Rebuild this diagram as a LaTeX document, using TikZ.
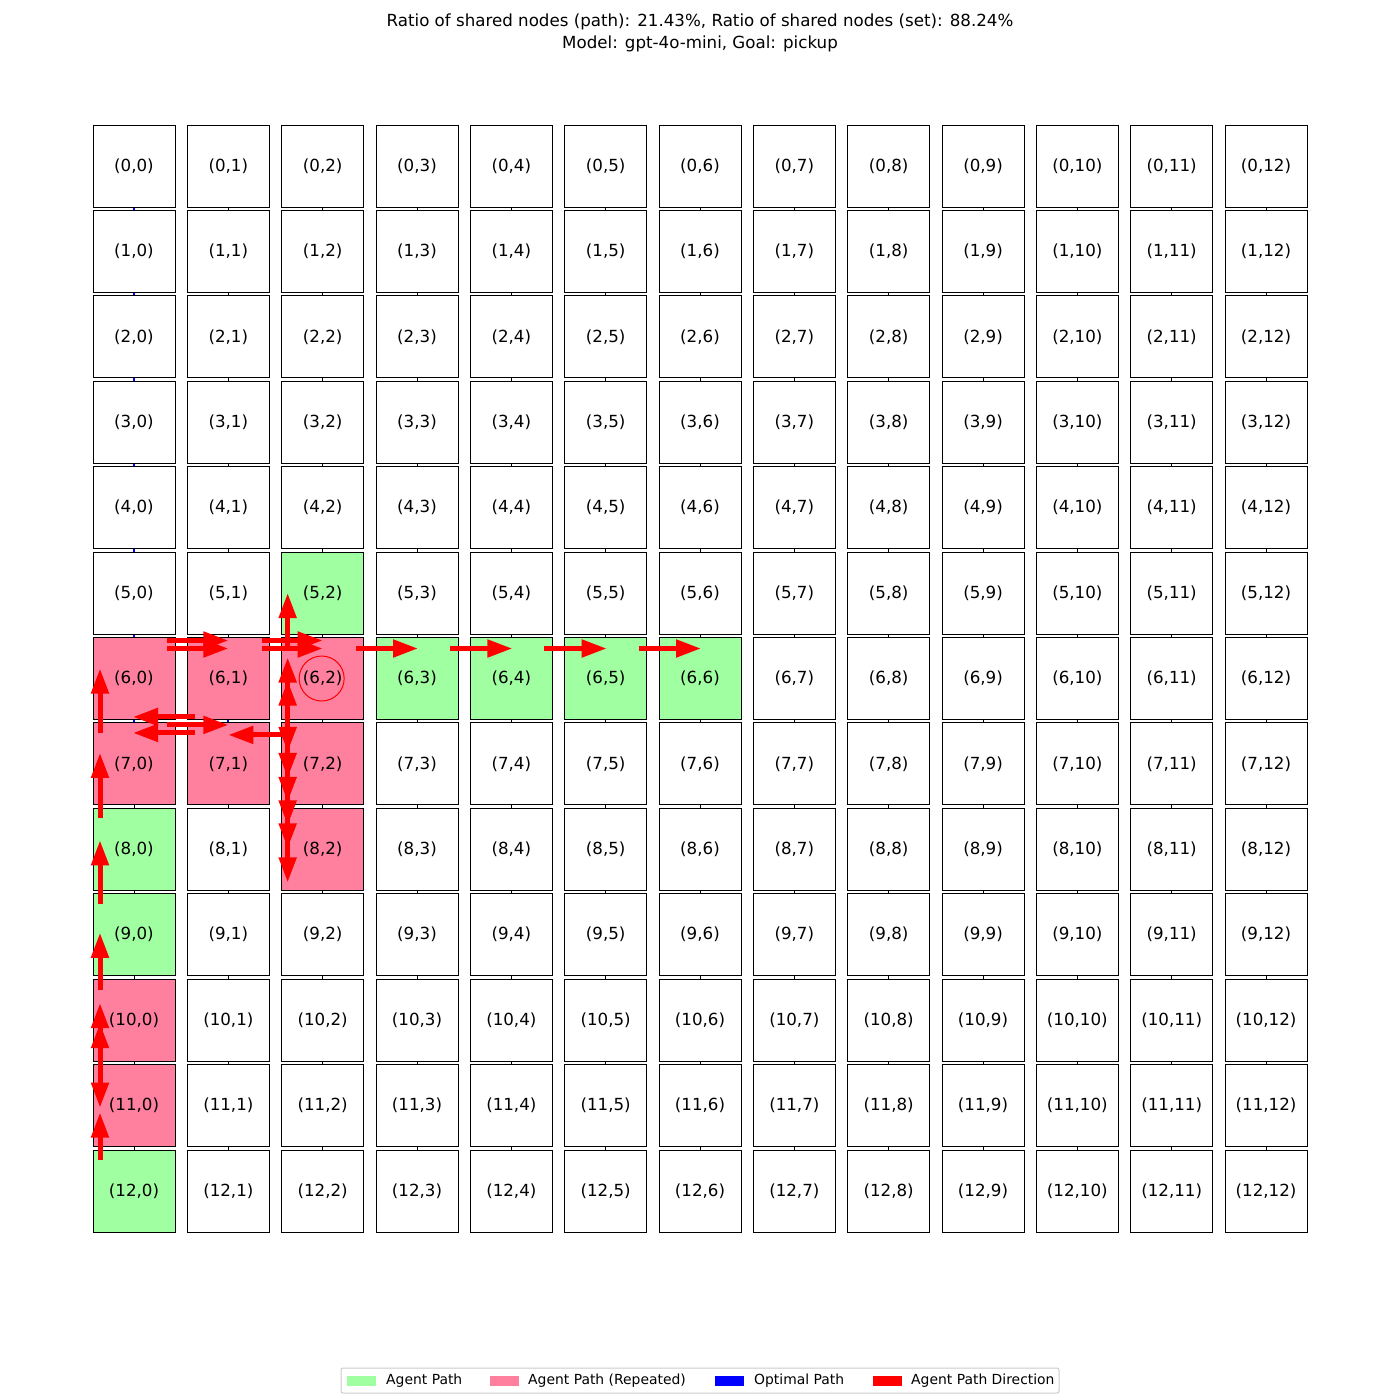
\documentclass[tikz,border=0pt]{standalone}
\usepackage{fontspec}
\setmainfont{DejaVu Sans}
\usetikzlibrary{arrows.meta}
\definecolor{agentgreen}{RGB}{160,255,160}
\definecolor{agentpink}{RGB}{255,127,158}

\begin{document}
\begin{tikzpicture}[x=1pt,y=-1pt,font=\fontsize{16.67}{22}\selectfont]
    \tikzset{
        cell/.style={draw,line width=1pt,fill=white,minimum width=82pt,
            minimum height=82pt,inner sep=0pt},
        visited/.style={fill=agentgreen},
        repeated/.style={fill=agentpink},
        gridedge/.style={line width=1pt},
        optedge/.style={draw=blue,line width=2.2pt},
        dirarrow/.style={draw=red,line width=5pt,
            -{Triangle[length=25pt,width=17pt]}},
        goalring/.style={draw=red,circle,line width=1pt,minimum size=45pt,inner sep=0pt},
        legpatch/.style={minimum width=29pt,minimum height=10pt,inner sep=0pt},
        legtext/.style={anchor=west,inner sep=0pt,font=\fontsize{13.9}{16}\selectfont},
        % agent path cells
        c12-0/.style=visited, c9-0/.style=visited, c8-0/.style=visited,
        c5-2/.style=visited, c6-3/.style=visited, c6-4/.style=visited,
        c6-5/.style=visited, c6-6/.style=visited,
        c11-0/.style=repeated, c10-0/.style=repeated, c7-0/.style=repeated,
        c6-0/.style=repeated, c6-1/.style=repeated, c7-1/.style=repeated,
        c6-2/.style=repeated, c7-2/.style=repeated, c8-2/.style=repeated,
        % optimal path edges
        v0-0/.style=optedge, v1-0/.style=optedge, v2-0/.style=optedge,
        v3-0/.style=optedge, v4-0/.style=optedge, v5-0/.style=optedge,
        v6-0/.style=optedge, v6-1/.style=optedge, h7-0/.style=optedge,
        h6-1/.style=optedge, h6-2/.style=optedge, h6-3/.style=optedge,
        h6-4/.style=optedge, h6-5/.style=optedge
    }

    \fill[white] (0,0) rectangle (1400,1400);
    \useasboundingbox (0,0) rectangle (1400,1400);

    \node[align=center] (title) at (700,33)
        {Ratio of shared nodes (path): 21.43\%, Ratio of shared nodes (set): 88.24\%\\
         Model: gpt-4o-mini, Goal: pickup};

    \foreach \r in {0,...,12}
        \foreach \c in {0,...,12}
            \node[cell,c\r-\c/.try] (n\r-\c) at ({134+94.333*\c},{166+85.417*\r}) {(\r,\c)};

    \foreach \r in {0,...,12}
        \foreach \c [evaluate=\c as \d using int(\c+1)] in {0,...,11}
            \draw[gridedge,h\r-\c/.try] (n\r-\c) -- (n\r-\d);
    \foreach \r [evaluate=\r as \s using int(\r+1)] in {0,...,11}
        \foreach \c in {0,...,12}
            \draw[gridedge,v\r-\c/.try] (n\r-\c) -- (n\s-\c);

    \node[goalring] (goal) at ([xshift=-1pt]n6-2.center) {};

    % column 0, upwards
    \draw[dirarrow] ([xshift=-34pt,yshift=31pt]n12-0.center) -- ([xshift=-34pt,yshift=-7pt]n11-0.center);
    \draw[dirarrow] ([xshift=-34pt,yshift=-30pt]n10-0.center) -- ([xshift=-34pt,yshift=-2pt]n11-0.center);
    \draw[dirarrow] ([xshift=-34pt,yshift=21pt]n11-0.center) -- ([xshift=-34pt,yshift=-3pt]n10-0.center);
    \draw[dirarrow] ([xshift=-34pt,yshift=31pt]n11-0.center) -- ([xshift=-34pt,yshift=17pt]n10-0.center);
    \draw[dirarrow] ([xshift=-34pt,yshift=30pt]n10-0.center) -- ([xshift=-34pt,yshift=2pt]n9-0.center);
    \draw[dirarrow] ([xshift=-34pt,yshift=31pt]n9-0.center) -- ([xshift=-34pt,yshift=9pt]n8-0.center);
    \draw[dirarrow] ([xshift=-34pt,yshift=31pt]n8-0.center) -- ([xshift=-34pt,yshift=11pt]n7-0.center);
    \draw[dirarrow] ([xshift=-34pt,yshift=31pt]n7-0.center) -- ([xshift=-34pt,yshift=10pt]n6-0.center);

    % row 6, to the right
    \draw[dirarrow] ([xshift=33pt,yshift=38pt]n6-0.center) -- ([yshift=38pt]n6-1.center);
    \draw[dirarrow] ([xshift=33pt,yshift=30pt]n6-0.center) -- ([yshift=30pt]n6-1.center);
    \draw[dirarrow] ([xshift=34pt,yshift=38pt]n6-1.center) -- ([yshift=38pt]n6-2.center);
    \draw[dirarrow] ([xshift=34pt,yshift=30pt]n6-1.center) -- ([yshift=30pt]n6-2.center);

    % row 7, back and forth
    \draw[dirarrow] ([xshift=-33pt,yshift=47pt]n7-1.center) -- ([xshift=-1pt,yshift=47pt]n7-0.center);
    \draw[dirarrow] ([xshift=33pt,yshift=39pt]n7-0.center) -- ([yshift=39pt]n7-1.center);
    \draw[dirarrow] ([xshift=-33pt,yshift=31pt]n7-1.center) -- ([xshift=-1pt,yshift=31pt]n7-0.center);
    \draw[dirarrow] ([xshift=-33pt,yshift=29pt]n7-2.center) -- ([yshift=29pt]n7-1.center);

    % column 2, up and down
    \draw[dirarrow] ([xshift=-35pt,yshift=-22pt]n6-2.center) -- ([xshift=-35pt,yshift=12pt]n7-2.center);
    \draw[dirarrow] ([xshift=-35pt,yshift=-22pt]n6-2.center) -- ([xshift=-35pt,yshift=-14pt]n7-2.center);
    \draw[dirarrow] ([xshift=-35pt,yshift=19pt]n7-2.center) -- ([xshift=-35pt,yshift=-38pt]n7-2.center);
    \draw[dirarrow] ([xshift=-35pt,yshift=-30pt]n7-2.center) -- ([xshift=-35pt,yshift=24pt]n8-2.center);
    \draw[dirarrow] ([xshift=-35pt,yshift=-30pt]n7-2.center) -- ([xshift=-35pt,yshift=1pt]n8-2.center);
    \draw[dirarrow] ([xshift=-35pt,yshift=-30pt]n7-2.center) -- ([xshift=-35pt,yshift=-33pt]n8-2.center);
    \draw[dirarrow] ([xshift=-35pt,yshift=30pt]n7-2.center) -- ([xshift=-35pt,yshift=21pt]n6-2.center);
    \draw[dirarrow] ([xshift=-35pt,yshift=30pt]n7-2.center) -- ([xshift=-35pt,yshift=-2pt]n6-2.center);
    \draw[dirarrow] ([xshift=-35pt,yshift=30pt]n6-2.center) -- ([xshift=-35pt]n5-2.center);

    % row 6, towards the goal
    \draw[dirarrow] ([xshift=33pt,yshift=30pt]n6-2.center) -- ([xshift=1pt,yshift=30pt]n6-3.center);
    \draw[dirarrow] ([xshift=33pt,yshift=30pt]n6-3.center) -- ([xshift=1pt,yshift=30pt]n6-4.center);
    \draw[dirarrow] ([xshift=33pt,yshift=30pt]n6-4.center) -- ([xshift=1pt,yshift=30pt]n6-5.center);
    \draw[dirarrow] ([xshift=33pt,yshift=30pt]n6-5.center) -- ([xshift=1pt,yshift=30pt]n6-6.center);

    % legend
    \draw[draw=black!20,fill=white,rounded corners=2pt,line width=1pt] (341,1368) rectangle (1059,1393);
    \node[legpatch,fill=agentgreen] (lgreen) at (361.5,1380.5) {};
    \node[legtext] (tgreen) at (386,1380.5) {Agent Path};
    \node[legpatch,fill=agentpink] (lpink) at (504.5,1380.5) {};
    \node[legtext] (tpink) at (528,1380.5) {Agent Path (Repeated)};
    \node[legpatch,fill=blue] (lblue) at (729.5,1380.5) {};
    \node[legtext] (tblue) at (754,1380.5) {Optimal Path};
    \node[legpatch,fill=red] (lred) at (887.5,1380.5) {};
    \node[legtext] (tred) at (911,1380.5) {Agent Path Direction};
\end{tikzpicture}
\end{document}
